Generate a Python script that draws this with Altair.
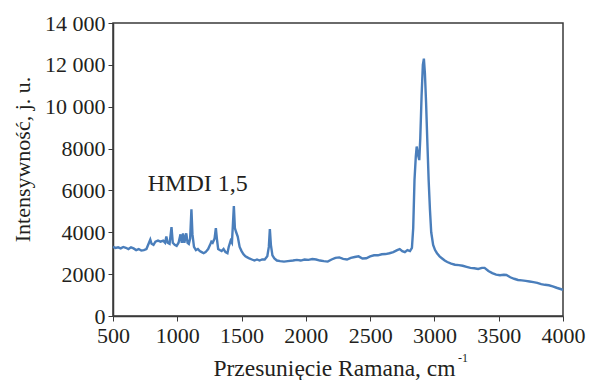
import altair as alt
import pandas as pd

# Raman shift (cm-1) and intensity (a.u.)
shift = [500, 520, 540, 560, 580, 600, 620, 640, 660, 680, 700, 720, 740, 760,
         780, 790, 800, 815, 830, 850, 870, 890, 905, 915, 925, 940, 955, 965,
         980, 995, 1010, 1025, 1035, 1045, 1055, 1070, 1080, 1090, 1100, 1110,
         1118, 1130, 1145, 1160, 1175, 1190, 1205, 1220, 1240, 1255, 1265, 1275,
         1290, 1300, 1308, 1318, 1330, 1345, 1360, 1375, 1390, 1400, 1415, 1425,
         1432, 1440, 1448, 1458, 1470, 1485, 1500, 1515, 1530, 1545, 1560, 1580,
         1600, 1620, 1640, 1660, 1680, 1700, 1712, 1720, 1728, 1740, 1755, 1775,
         1800, 1830, 1860, 1900, 1930, 1960, 1990, 2020, 2050, 2080, 2110, 2140,
         2170, 2200, 2230, 2260, 2290, 2320, 2350, 2380, 2410, 2440, 2470, 2500,
         2530, 2560, 2590, 2620, 2650, 2680, 2710, 2730, 2750, 2770, 2790, 2810,
         2825, 2835, 2845, 2855, 2862, 2872, 2882, 2890, 2900, 2910, 2918, 2926,
         2935, 2945, 2955, 2965, 2975, 2990, 3005, 3020, 3040, 3060, 3080, 3100,
         3130, 3160, 3190, 3220, 3250, 3280, 3310, 3340, 3370, 3390, 3420, 3450,
         3480, 3510, 3540, 3560, 3590, 3620, 3650, 3680, 3710, 3740, 3770, 3800,
         3830, 3860, 3890, 3920, 3950, 3980, 4000]
intensity = [3300, 3250, 3280, 3230, 3300, 3260, 3200, 3280, 3230, 3150, 3200, 3130, 3150, 3200,
             3500, 3650, 3450, 3400, 3550, 3600, 3550, 3600, 3500, 3800, 3500, 3450, 4250, 3500,
             3400, 3350, 3500, 3900, 3500, 3950, 3500, 3950, 3500, 3450, 3700, 5100,
             3900, 3300, 3150, 3200, 3100, 3050, 3000, 3050, 3200, 3400, 3550, 3500,
             3700, 4200, 3700, 3200, 3150, 3100, 3200, 3050, 3000, 3300, 3600, 3500,
             4300, 5250, 4200, 4000, 3800, 3300, 3100, 2950, 2850, 2800, 2750, 2700,
             2650, 2700, 2650, 2700, 2700, 2850, 3300, 4150, 3400, 2900, 2750, 2650,
             2620, 2600, 2620, 2650, 2680, 2650, 2700, 2680, 2720, 2700, 2650, 2620,
             2600, 2700, 2780, 2800, 2730, 2700, 2780, 2820, 2850, 2750, 2760, 2850,
             2900, 2900, 2950, 2960, 3000, 3050, 3150, 3200, 3100, 3050, 3150, 3100,
             3250, 4200, 6500, 7600, 8100, 7700, 7450, 8500, 10500, 12000, 12300, 11600,
             10200, 8300, 6500, 5100, 4000, 3400, 3150, 3000, 2850, 2750, 2650, 2580,
             2500, 2450, 2430, 2400, 2350, 2300, 2280, 2250, 2300, 2300, 2150, 2050,
             1980, 1950, 1970, 1960, 1850, 1780, 1720, 1700, 1680, 1650, 1620, 1580,
             1520, 1490, 1470, 1420, 1350, 1290, 1250]

x_ticks = [500, 1000, 1500, 2000, 2500, 3000, 3500, 4000]
y_ticks = [0, 2000, 4000, 6000, 8000, 10000, 12000, 14000]

annot_text = ["HMDI 1,5"]
annot_x = [770]
annot_y = [5990]

df = pd.DataFrame({"shift": shift, "intensity": intensity})
ann = pd.DataFrame({"x": annot_x, "y": annot_y, "t": annot_text})

FONT = "Liberation Serif"
TXT = "#231f20"
LINE = "#4a7ebb"

x_scale = alt.Scale(domain=[500, 4000], nice=False, zero=False)
y_scale = alt.Scale(domain=[0, 14000], nice=False)

line = alt.Chart(df).mark_line(color=LINE, strokeWidth=2.4).encode(
    x=alt.X("shift:Q", scale=x_scale,
            axis=alt.Axis(values=x_ticks, format="d", title="Przesunięcie Ramana, cm",
                          titleFontSize=23.5, labelPadding=4,
                          titleX=221, titleY=59, titleBaseline="alphabetic",
                          titleAlign="center")),
    y=alt.Y("intensity:Q", scale=y_scale,
            axis=alt.Axis(values=y_ticks, title="Intensywność, j. u.",
                          labelExpr="datum.value >= 10000 ? replace(format(datum.value, ','), ',', ' ') : format(datum.value, 'd')",
                          titleX=-84, titleY=136, titleBaseline="alphabetic",
                          titleAlign="center", titleAngle=-90)),
)

label = alt.Chart(ann).mark_text(font=FONT, fontSize=24, color=TXT, align="left",
                                 baseline="alphabetic").encode(
    x=alt.X("x:Q", scale=x_scale), y=alt.Y("y:Q", scale=y_scale), text="t:N")

sup = alt.Chart(pd.DataFrame({"t": ["-1"]})).mark_text(
    font=FONT, fontSize=12, color=TXT, align="left", baseline="alphabetic"
).encode(x=alt.value(345), y=alt.value(339), text="t:N")

chart = alt.layer(line, label, sup).properties(
    width=450, height=293,
    autosize=alt.AutoSizeParams(type="none"),
    padding={"left": 113, "top": 23, "right": 30, "bottom": 64},
).configure(
    background="white"
).configure_view(
    stroke="#3a3a3a", strokeWidth=1.5
).configure_axis(
    grid=False, labelFont=FONT, titleFont=FONT, labelFontSize=22, titleFontSize=22,
    labelColor=TXT, titleColor=TXT, titleFontWeight="normal",
    domainColor="#3a3a3a", domainWidth=1.5, tickColor="#3a3a3a", tickSize=5,
    labelPadding=3, labelFlush=False, labelOverlap=False,
)

chart.save("out.html", embed_options={"renderer": "svg", "actions": False})
